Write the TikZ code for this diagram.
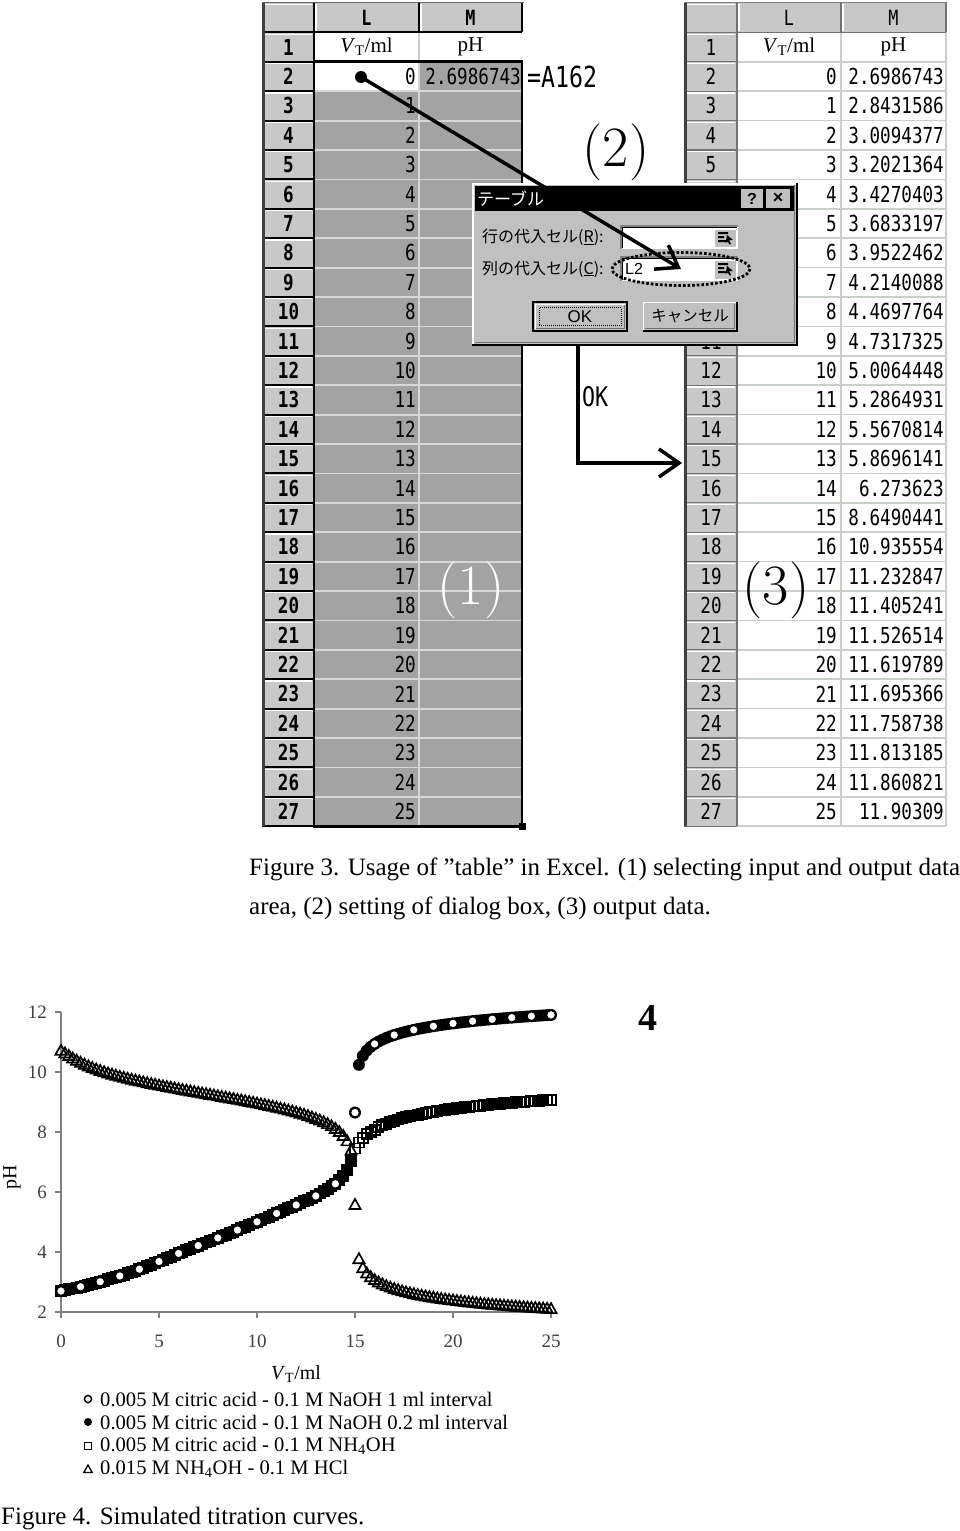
\documentclass[tikz,border=0pt]{standalone}
\usepackage{fontspec}
\usetikzlibrary{arrows.meta}
\setmainfont{Liberation Serif}
\newfontfamily\cellf[FakeStretch=0.8]{DejaVu Sans Mono}
\newfontfamily\jp{Noto Sans CJK JP}
\newfontfamily\lmr{Latin Modern Roman}
\newfontfamily\sansf{Liberation Sans}
\definecolor{hdr}{HTML}{C8C8C8}
\definecolor{sel}{HTML}{A3A3A3}
\definecolor{selgrid}{HTML}{D8D8D8}
\definecolor{gridc}{HTML}{C8D0C8}
\definecolor{dlg}{HTML}{C0C0C0}
\definecolor{axisc}{HTML}{808080}
\definecolor{tickc}{HTML}{404040}
\newcommand{\myfs}[1]{\fontsize{#1}{#1}\selectfont}
\def\citlist{2.6986743/2.8431586, 2.8431586/3.0094377, 3.0094377/3.2021364, 3.2021364/3.4270403, 3.4270403/3.6833197, 3.6833197/3.9522462, 3.9522462/4.2140088, 4.2140088/4.4697764, 4.4697764/4.7317325, 4.7317325/5.0064448, 5.0064448/5.2864931, 5.2864931/5.5670814, 5.5670814/5.8696141, 5.8696141/6.273623}
\begin{document}
\begin{tikzpicture}[x=1pt,y=-1pt,
  xcell/.style={font={\cellf\myfs{22}}, inner sep=0pt},
  xrowno/.style={font={\cellf\bfseries\myfs{22}}, inner sep=0pt},
  xcolhdr/.style={font={\cellf\bfseries\myfs{21}}, inner sep=0pt},
  xcolhdrr/.style={font={\cellf\myfs{21}}, inner sep=0pt},
  xhdrtxt/.style={font={\myfs{21}}, inner sep=0pt},
  xbig/.style={font={\lmr\myfs{57}}, inner sep=0pt},
  xjp/.style={font={\jp\myfs{16}}, inner sep=0pt, anchor=west},
  xarrow/.style={line width=3.5pt, -{Straight Barb[length=20pt,width=28pt]}},
  xcap/.style={font={\myfs{25}}, inner sep=0pt, anchor=base west},
  xtick/.style={font={\myfs{19}}, text=tickc, inner sep=0pt},
  xleg/.style={font={\myfs{20.6}}, inner sep=0pt, anchor=west},
  xtri/.style={line width=1.7pt, draw=black, line join=miter},
  xsq/.style={line width=1.9pt, draw=black},
  xoc/.style={line width=1.9pt, draw=black, fill=white},
]
\fill[white] (0,0) rectangle (960,1531);
\useasboundingbox (0,0) rectangle (960,1531);

% ================= LEFT TABLE =================
\fill[hdr] (262,3) rectangle (314,826.2);
\fill[hdr] (314,3) rectangle (522,32.4);
\fill[white] (314,32.4) rectangle (522,61.8);
\fill[white] (314,61.8) rectangle (419,91.2);
\fill[sel] (419,61.8) rectangle (522,91.2);
\fill[sel] (314,91.2) rectangle (522,826.2);
\foreach \k in {3,...,27} \draw[selgrid, line width=1.8pt] (315,{3+\k*29.4}) -- (521,{3+\k*29.4});
\draw[selgrid, line width=1.8pt] (419,91.2) -- (419,825);
\draw[selgrid, line width=1.8pt] (419,61.8) -- (419,91.2);
\draw[gridc, line width=1.2pt] (419,32.4) -- (419,61.8);
\foreach \k in {0,...,27} {
  \draw[white, line width=1.2pt] (264,{3+\k*29.4+1.8}) -- (312,{3+\k*29.4+1.8});
  \draw[black, line width=2pt] (262,{3+(\k+1)*29.4}) -- (314,{3+(\k+1)*29.4});
}
\draw[white, line width=1.2pt] (316,4) -- (316,31) (421,4) -- (421,31);
\draw[black, line width=2pt] (314,3) -- (314,826.2);
\draw[black, line width=2pt] (419,3) -- (419,32.4) (522,3) -- (522,32.4);
\draw[black, line width=2pt] (314,32.4) -- (522,32.4);
\draw[black!75, line width=3pt] (263.5,3) -- (263.5,826.2);
\draw[black!60, line width=1.5pt] (262,2.5) -- (524,2.5);
\draw[black, line width=2.8pt] (314,61.8) rectangle (522,826.2);
\fill[black] (519,823) rectangle (526,830);

\node[xcolhdr] (lL) at (366.5,17.7) {L};
\node[xcolhdr] (lM) at (470.5,17.7) {M};
\node[xhdrtxt] (lV) at (366.5,47.1) {\textit{V}\textsubscript{T}/ml};
\node[xhdrtxt] (lpH) at (470.5,47.1) {pH};
\foreach \r in {1,...,27} \node[xrowno] (lr\r) at (288.5,{3+(\r+0.5)*29.4}) {\r};
\foreach \r in {2,...,27} {\pgfmathtruncatemacro\v{\r-2}
  \node[xcell, anchor=east] (lv\r) at (416,{3+(\r+0.5)*29.4}) {\v};}
\node[xcell, anchor=east] (lm2) at (521,76.5) {2.6986743};
\node[xbig, text=white] (one) at (471,590) {(1)};

% ================= RIGHT TABLE =================
\fill[hdr] (684,3) rectangle (737,826.2);
\fill[hdr] (737,3) rectangle (946,32.4);
\fill[white] (737,32.4) rectangle (946,826.2);
\foreach \k in {1,...,28} \draw[gridc, line width=1.5pt] (737,{3+\k*29.4}) -- (946,{3+\k*29.4});
\draw[gridc, line width=1.5pt] (841,32.4) -- (841,826.2) (946,32.4) -- (946,826.2);
\foreach \k in {0,...,27} {
  \draw[white, line width=1.2pt] (687,{3+\k*29.4+1.8}) -- (735,{3+\k*29.4+1.8});
  \draw[black!55, line width=1.3pt] (684,{3+(\k+1)*29.4}) -- (737,{3+(\k+1)*29.4});
}
\draw[white, line width=1.2pt] (739,4) -- (739,31) (843,4) -- (843,31);
\draw[black!55, line width=1.3pt] (737,3) -- (737,826.2) (841,3) -- (841,32.4) (946,3) -- (946,32.4);
\draw[black!55, line width=1.3pt] (737,32.4) -- (946,32.4);
\draw[black!75, line width=3.5pt] (685.5,3) -- (685.5,826.2);
\draw[black!50, line width=1.5pt] (684,2.5) -- (947,2.5);

\node[xcolhdrr] (rL) at (789,17.7) {L};
\node[xcolhdrr] (rM) at (893.5,17.7) {M};
\node[xhdrtxt] (rV) at (789,47.1) {\textit{V}\textsubscript{T}/ml};
\node[xhdrtxt] (rpH) at (893.5,47.1) {pH};
\foreach \r in {1,2,3,4,5,11,12,13,14,15,16,17,18,19,20,21,22,23,24,25,26,27} \node[xcell] (rr\r) at (711,{3+(\r+0.5)*29.4}) {\r};
\foreach \r/\v/\p in {2/0/2.6986743, 3/1/2.8431586, 4/2/3.0094377, 5/3/3.2021364, 6/4/3.4270403, 7/5/3.6833197, 8/6/3.9522462, 9/7/4.2140088, 10/8/4.4697764, 11/9/4.7317325, 12/10/5.0064448, 13/11/5.2864931, 14/12/5.5670814, 15/13/5.8696141, 16/14/6.273623, 17/15/8.6490441, 18/16/10.935554, 19/17/11.232847, 20/18/11.405241, 21/19/11.526514, 22/20/11.619789, 23/21/11.695366, 24/22/11.758738, 25/23/11.813185, 26/24/11.860821, 27/25/11.90309} {
  \node[xcell, anchor=east] (rv\r) at (837,{3+(\r+0.5)*29.4}) {\v};
  \node[xcell, anchor=east] (rp\r) at (944,{3+(\r+0.5)*29.4}) {\p};
}
\node[xbig] (three) at (776,590) {(3)};

% ================= LABELS =================
\node[font={\cellf\myfs{29}}, inner sep=0pt, anchor=west] (a162) at (527,77) {=A162};
\node[xbig] (two) at (616,152) {(2)};

% ================= DIALOG =================
\fill[dlg] (472,183) rectangle (797,345);
\draw[white, line width=1.5pt] (473,344) -- (473,184) -- (796,184);
\draw[black, line width=2.5pt] (472,345) -- (797,345) -- (797,183);
\draw[black!55, line width=1.2pt] (474.5,342.5) -- (794.5,342.5) -- (794.5,185);
\fill[black] (475,186) rectangle (794,211);
\node[font={\jp\myfs{17}}, text=white, inner sep=0pt, anchor=west] (ttl) at (477,198.5) {テーブル};
\fill[dlg] (741,188.5) rectangle (763,208.5);
\draw[black, line width=1pt] (741,208.5) -- (763,208.5) -- (763,188.5);
\node[font={\sansf\bfseries\myfs{16}}, inner sep=0pt] (qbtn) at (752,198.5) {?};
\fill[dlg] (766,188.5) rectangle (790,208.5);
\draw[black, line width=1pt] (766,208.5) -- (790,208.5) -- (790,188.5);
\node[font={\sansf\bfseries\myfs{18}}, inner sep=0pt] (xbtn) at (778,198.5) {×};

\node[xjp] (lab1) at (482,237.5) {行の代入セル(\underline{R}):};
\node[xjp] (lab2) at (482,269) {列の代入セル(\underline{C}):};
\foreach \yt/\yb/\nm in {226/249/box1, 257/281/box2} {
  \fill[white] (621,\yt) rectangle (738,\yb);
  \draw[black!50, line width=1.2pt] (621,\yb) -- (621,\yt) -- (738,\yt);
  \draw[black, line width=1.2pt] (622.8,\yb-1) -- (622.8,\yt+1.8) -- (737,\yt+1.8);
  \fill[dlg] (714,\yt+3) rectangle (735.5,\yb-2);
  \draw[white, line width=1pt] (714,\yb-2) -- (714,\yt+3) -- (735.5,\yt+3);
  \fill[black] (718,\yt+6) rectangle (728,\yt+8) (718,\yt+10) rectangle (724,\yt+12) (718,\yt+14) rectangle (728,\yt+16);
  \fill[black] (727,\yt+9) -- (733,\yt+14) -- (729,\yt+14) -- (731,\yt+18) -- (729.5,\yt+18.5) -- (727.5,\yt+15) -- (725.5,\yt+17) -- cycle;
  \coordinate (\nm) at (680,{(\yt+\yb)/2});
}
\node[font={\sansf\myfs{16}}, inner sep=0pt, anchor=west] (l2) at (625,269) {L2};
\draw[black, line width=2.8pt, dash pattern=on 2.6pt off 2pt] (681,269) ellipse [x radius=69, y radius=16.5];

% OK button
\fill[dlg] (533,302) rectangle (627,331);
\draw[black, line width=2pt] (533,302) rectangle (627,331);
\draw[white, line width=1pt] (535.5,329) -- (535.5,304.5) -- (625,304.5);
\draw[black!55, line width=1pt] (536,328.5) -- (624.5,328.5) -- (624.5,304.5);
\draw[black, line width=0.9pt, dash pattern=on 1pt off 1pt] (539,307.5) rectangle (621,325.5);
\node[font={\sansf\myfs{17}}, inner sep=0pt] (okb) at (580,316.5) {OK};
% Cancel button
\fill[dlg] (643,302) rectangle (737,331);
\draw[white, line width=1.5pt] (643.5,330.5) -- (643.5,302.5) -- (736.5,302.5);
\draw[black, line width=2pt] (643,331) -- (737,331) -- (737,302);
\draw[black!55, line width=1pt] (645,328.5) -- (734.5,328.5) -- (734.5,304);
\node[font={\jp\myfs{15.5}}, inner sep=0pt] (cnb) at (690,316.5) {キャンセル};

% ================= ARROWS =================
\node[circle, fill=black, inner sep=0pt, minimum size=12pt] (dot) at (361,77) {};
\coordinate (tgt) at (681,269);
\draw[xarrow] (dot.center) -- (tgt);
\coordinate (okstart) at (578,345);
\coordinate (oktgt) at (682,463);
\draw[xarrow] (okstart) |- (oktgt);
\node[font={\cellf\myfs{27}}, inner sep=0pt, anchor=west] (oklab) at (582,397) {OK};

% ================= CAPTION 3 =================
\node[xcap] (cap3a) at (249,875) {Figure 3. Usage of ”table” in Excel. (1) selecting input and output data};
\node[xcap] (cap3b) at (249,914) {area, (2) setting of dialog box, (3) output data.};

% ================= CHART =================
\draw[axisc, line width=1.1pt] (61,1012) -- (61,1312) -- (551,1312);
\foreach \p in {2,4,...,12} {
  \draw[axisc, line width=1.1pt] (55,{1372-30*\p}) -- (61,{1372-30*\p});
  \node[xtick, anchor=east] (yt\p) at (47,{1372-30*\p}) {\p};
}
\foreach \v in {0,5,...,25} {
  \draw[axisc, line width=1.1pt] ({61+19.6*\v},1312) -- ({61+19.6*\v},1318);
  \node[xtick] (xt\v) at ({61+19.6*\v},1341) {\v};
}
\node[font={\myfs{20}}, rotate=90, inner sep=0pt] (ylab) at (12,1177) {pH};
\node[font={\myfs{20}}, inner sep=0pt] (xlab) at (296,1374) {\textit{V}\textsubscript{T}/ml};
\node[font={\bfseries\myfs{38}}, inner sep=0pt] (four) at (648,1018) {4};

% filled circles (0.2 ml)
\foreach \a/\b [count=\n from 0] in \citlist {
  \foreach \j in {0,...,4} \fill ({61+19.6*(\n+\j/5)},{1372-30*(\a+(\b-\a)*\j/5)}) circle (6);
}
\foreach \v/\p in {14/6.2736, 14.2/6.39, 14.4/6.53, 14.6/6.73, 14.8/7.05, 15/8.649}
  \fill ({61+19.6*\v},{1372-30*\p}) circle (6);
\foreach \i in {76,...,125} {
  \edef\py{\fpeval{round(1372-30*(14+ln(0.1*(\i/5-15)/(100+\i/5))/ln(10)),2)}}
  \fill ({61+19.6*\i/5},\py) circle (6);
}
% squares
\foreach \a/\b [count=\n from 0] in \citlist {
  \foreach \j in {0,...,4} \draw[xsq] ({61+19.6*(\n+\j/5)-5},{1372-30*(\a+(\b-\a)*\j/5)-5}) rectangle ++(10,10);
}
\foreach \v/\p in {14/6.2736, 14.2/6.39, 14.4/6.53, 14.6/6.73, 14.8/7.02, 15/7.45, 15.2/7.65, 15.4/7.8, 15.6/7.92, 15.8/8.0}
  \draw[xsq] ({61+19.6*\v-5},{1372-30*\p-5}) rectangle ++(10,10);
\foreach \i in {80,...,125} {
  \edef\py{\fpeval{round(1372-30*(9.25+ln((\i/5-15)/15)/ln(10)),2)}}
  \draw[xsq] ({61+19.6*\i/5-5},{\py-5}) rectangle ++(10,10);
}
% triangles
\foreach \i in {0,...,125} {
  \edef\V{\fpeval{\i/5}}
  \edef\Ca{\fpeval{0.1*(\V)/(100+\V)}}
  \edef\Cb{\fpeval{1.5/(100+\V)}}
  \ifnum\i<75
    \edef\xx{\fpeval{(((\Ca)-1.78e-5)+sqrt(((\Ca)-1.78e-5)^2+4*1.78e-5*(\Cb)))/2}}
    \edef\py{\fpeval{round(1372-30*(14+ln((\xx)-(\Ca))/ln(10)),2)}}
  \else
    \edef\bb{\fpeval{(\Cb)-(\Ca)+5.618e-10}}
    \edef\hh{\fpeval{(-(\bb)+sqrt((\bb)^2+4*5.618e-10*(\Ca)))/2}}
    \edef\py{\fpeval{round(1372+30*ln(\hh)/ln(10),2)}}
  \fi
  \draw[xtri] ({61+19.6*\V},{\py-6}) -- ({61+19.6*\V+5.6},{\py+4}) -- ({61+19.6*\V-5.6},{\py+4}) -- cycle;
}
% open circles (1 ml)
\foreach \v/\p in {0/2.6986743, 1/2.8431586, 2/3.0094377, 3/3.2021364, 4/3.4270403, 5/3.6833197, 6/3.9522462, 7/4.2140088, 8/4.4697764, 9/4.7317325, 10/5.0064448, 11/5.2864931, 12/5.5670814, 13/5.8696141, 14/6.273623, 15/8.6490441, 16/10.935554, 17/11.232847, 18/11.405241, 19/11.526514, 20/11.619789, 21/11.695366, 22/11.758738, 23/11.813185, 24/11.860821, 25/11.90309}
  \draw[xoc] ({61+19.6*\v},{1372-30*\p}) circle (4.8);

% legend
\draw[line width=1.4pt, fill=white] (88,1399) circle (3.6);
\fill (88,1422) circle (4);
\draw[line width=1.5pt] (84.5,1442.5) rectangle (91.5,1449.5);
\draw[line width=1.3pt] (88,1465) -- (92.2,1472.5) -- (83.8,1472.5) -- cycle;
\node[xleg] (leg1) at (100,1399) {0.005 M citric acid - 0.1 M NaOH 1 ml interval};
\node[xleg] (leg2) at (100,1422) {0.005 M citric acid - 0.1 M NaOH 0.2 ml interval};
\node[xleg] (leg3) at (100,1446) {0.005 M citric acid - 0.1 M NH\textsubscript{4}OH};
\node[xleg] (leg4) at (100,1469) {0.015 M NH\textsubscript{4}OH - 0.1 M HCl};

\node[xcap] (cap4) at (1,1524) {Figure 4. Simulated titration curves.};
\end{tikzpicture}
\end{document}
